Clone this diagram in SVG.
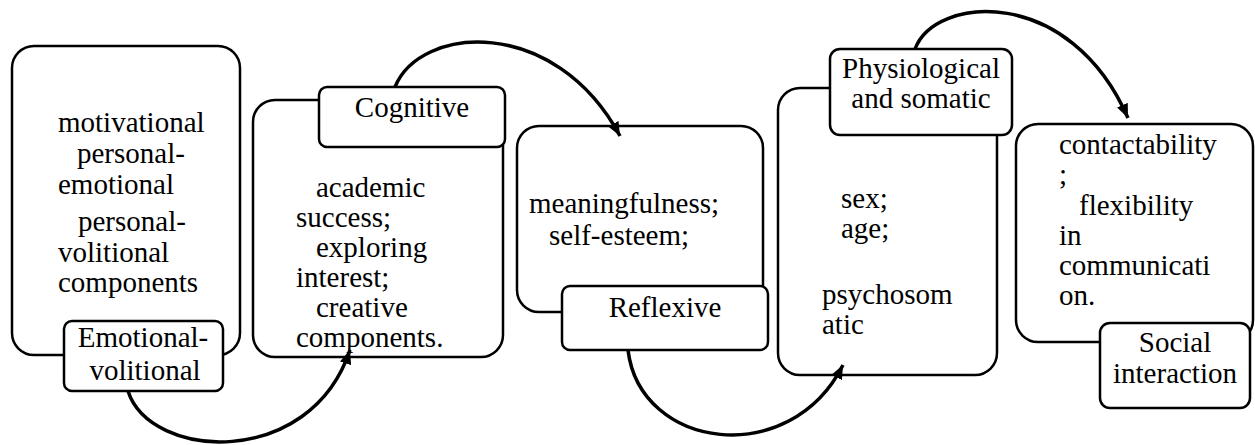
<svg xmlns="http://www.w3.org/2000/svg" width="1255" height="445" viewBox="0 0 1255 445">
<style>
.main{fill:#fff;stroke:#000;stroke-width:2.5}
.lab{fill:#fff;stroke:#000;stroke-width:2.5}
.t{font-family:'Liberation Serif','Times New Roman',Times,serif;font-size:29px;fill:#000}
.c{text-anchor:middle}
.arr{fill:none;stroke:#000;stroke-width:3.5;marker-end:url(#ah)}
</style>
<defs>
<marker id="ah" markerUnits="userSpaceOnUse" markerWidth="14" markerHeight="12" refX="12" refY="5" orient="auto" viewBox="0 0 12 10">
<path d="M0,0 L12,5 L0,10 Z" fill="#000"/>
</marker>
</defs>
<rect width="1255" height="445" fill="#fff"/>
<g id="node-emotional">
<rect class="main" x="12" y="46" width="228" height="309" rx="22"/>
<g class="t">
<text x="58" y="132">motivational</text>
<text x="77" y="163">personal-</text>
<text x="58" y="194">emotional</text>
<text x="78" y="231">personal-</text>
<text x="58" y="262">volitional</text>
<text x="58" y="292">components</text>
</g>
<rect class="lab" x="64" y="321" width="159" height="70" rx="8"/>
<g class="t c">
<text x="143" y="347">Emotional-</text>
<text x="145" y="380">volitional</text>
</g>
</g>
<g id="node-cognitive">
<rect class="main" x="253" y="100" width="250" height="257" rx="22"/>
<g class="t">
<text x="316" y="197">academic</text>
<text x="296" y="227">success;</text>
<text x="316" y="257">exploring</text>
<text x="296" y="287">interest;</text>
<text x="316" y="317">creative</text>
<text x="296" y="347">components.</text>
</g>
<rect class="lab" x="319" y="87" width="186" height="60" rx="8"/>
<text class="t c" x="412" y="117">Cognitive</text>
</g>
<g id="node-reflexive">
<rect class="main" x="517" y="126" width="246" height="186" rx="22"/>
<g class="t">
<text x="529" y="213">meaningfulness;</text>
<text x="549" y="245">self-esteem;</text>
</g>
<rect class="lab" x="562" y="286" width="206" height="64" rx="8"/>
<text class="t c" x="665" y="317">Reflexive</text>
</g>
<g id="node-physiological">
<rect class="main" x="778" y="88" width="219" height="287" rx="22"/>
<g class="t">
<text x="841" y="208">sex;</text>
<text x="841" y="238">age;</text>
<text x="822" y="304">psychosom</text>
<text x="822" y="334">atic</text>
</g>
<rect class="lab" x="830" y="49" width="182" height="86" rx="10"/>
<g class="t c">
<text x="921" y="78">Physiological</text>
<text x="921" y="108">and somatic</text>
</g>
</g>
<g id="node-social">
<rect class="main" x="1016" y="124" width="237" height="218" rx="22"/>
<g class="t">
<text x="1059" y="154">contactability</text>
<text x="1059" y="184">;</text>
<text x="1079" y="215">flexibility</text>
<text x="1059" y="245">in</text>
<text x="1059" y="275">communicati</text>
<text x="1059" y="305">on.</text>
</g>
<rect class="lab" x="1100" y="323" width="150" height="85" rx="10"/>
<g class="t c">
<text x="1175" y="352">Social</text>
<text x="1175" y="383">interaction</text>
</g>
</g>
<g id="connectors">
<path class="arr" d="M128,391 C150,460 310,470 350,350"/>
<path class="arr" d="M395,87 C420,25 555,15 620,136"/>
<path class="arr" d="M628,350 C640,450 790,470 843,365"/>
<path class="arr" d="M915,49 C935,-5 1070,-15 1128,118"/>
</g>
</svg>
